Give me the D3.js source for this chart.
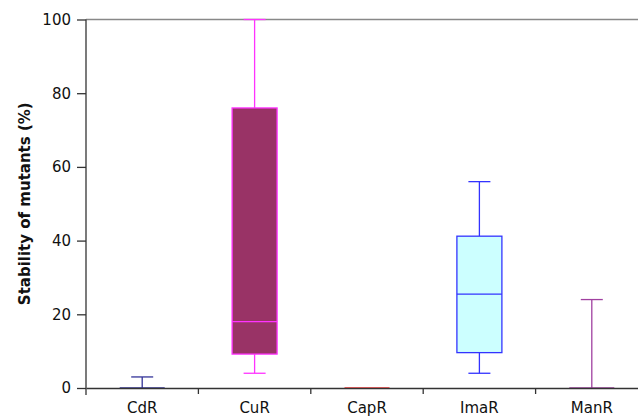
<!DOCTYPE html>
<html>
<head>
<meta charset="utf-8">
<script src="https://cdn.jsdelivr.net/npm/d3@7"></script>
<style>
  body { margin: 0; background: #fff; }
  svg { display: block; font-family: "DejaVu Sans", Verdana, sans-serif; }
</style>
</head>
<body>
<div id="chart"></div>
<script>
// Data
const categories = ["CdR", "CuR", "CapR", "ImaR", "ManR"];
const whiskerLow = [0, 4, 0, 4, 0];
const q1 = [0, 9.2, 0, 9.6, 0];
const medians = [0, 18, 0, 25.5, 0];
const q3 = [0, 76, 0, 41.2, 0];
const whiskerHigh = [3, 100, 0, 56, 24];
const yTicks = [0, 20, 40, 60, 80, 100];

// Styling per box
const strokeColors = ["#333399", "#ff33ff", "#ff3333", "#3333ff", "#a040a0"];
const fillColors = ["#ccffff", "#993366", "#ffffff", "#ccffff", "#ffffff"];

const W = 638, H = 416;
const margin = { left: 86, top: 19.5, right: -10, bottom: 28 };

const svg = d3.select("#chart").append("svg").attr("width", W).attr("height", H);

const x = d3.scaleBand().domain(categories).range([margin.left, W - margin.right]);
const y = d3.scaleLinear().domain([0, 100]).range([388, margin.top]);

const boxes = categories.map((c, i) => ({
  name: c, lo: whiskerLow[i], q1: q1[i], med: medians[i], q3: q3[i], hi: whiskerHigh[i],
  stroke: strokeColors[i], fill: fillColors[i]
}));

// top frame line
svg.append("line")
  .attr("x1", margin.left).attr("x2", W)
  .attr("y1", y(100)).attr("y2", y(100))
  .attr("stroke", "#888").attr("stroke-width", 1.5);

const boxW = 45, capW = 22;
const g = svg.append("g").selectAll("g").data(boxes).enter().append("g");
const cx = (d) => x(d.name) + x.bandwidth() / 2;

// whiskers
g.append("line")
  .attr("x1", cx).attr("x2", cx)
  .attr("y1", (d) => y(d.hi)).attr("y2", (d) => y(d.q3))
  .attr("stroke", (d) => d.stroke).attr("stroke-width", 1.3);
g.append("line")
  .attr("x1", cx).attr("x2", cx)
  .attr("y1", (d) => y(d.q1)).attr("y2", (d) => y(d.lo))
  .attr("stroke", (d) => d.stroke).attr("stroke-width", 1.3);
g.append("line")
  .attr("x1", (d) => cx(d) - capW / 2).attr("x2", (d) => cx(d) + capW / 2)
  .attr("y1", (d) => y(d.hi)).attr("y2", (d) => y(d.hi))
  .attr("stroke", (d) => d.stroke).attr("stroke-width", 1.3)
  .attr("display", (d) => (d.hi === d.q3 ? "none" : null));
g.append("line")
  .attr("x1", (d) => cx(d) - capW / 2).attr("x2", (d) => cx(d) + capW / 2)
  .attr("y1", (d) => y(d.lo)).attr("y2", (d) => y(d.lo))
  .attr("stroke", (d) => d.stroke).attr("stroke-width", 1.3)
  .attr("display", (d) => (d.lo === d.q1 ? "none" : null));

// boxes
g.append("rect")
  .attr("x", (d) => cx(d) - boxW / 2)
  .attr("width", boxW)
  .attr("y", (d) => y(d.q3))
  .attr("height", (d) => y(d.q1) - y(d.q3))
  .attr("fill", (d) => d.fill)
  .attr("stroke", (d) => d.stroke).attr("stroke-width", 1.3);

// medians
g.append("line")
  .attr("x1", (d) => cx(d) - boxW / 2).attr("x2", (d) => cx(d) + boxW / 2)
  .attr("y1", (d) => y(d.med)).attr("y2", (d) => y(d.med))
  .attr("stroke", (d) => d.stroke).attr("stroke-width", 1.3);

// y axis
const yAxis = svg.append("g")
  .attr("transform", "translate(" + margin.left + ",0)")
  .call(d3.axisLeft(y).tickValues(yTicks).tickSize(9).tickPadding(6));
yAxis.selectAll("text").attr("font-size", 15).attr("fill", "#111")
  .style("font-family", "DejaVu Sans, Verdana, sans-serif");
yAxis.selectAll("line, path").attr("stroke", "#333").attr("stroke-width", 1.3);
yAxis.select(".domain").attr("d", "M0," + (y(0) + 7) + "V" + y(100));

// x axis
const xAxis = svg.append("g")
  .attr("transform", "translate(0," + y(0) + ")")
  .call(d3.axisBottom(x).tickSize(0).tickPadding(14));
xAxis.selectAll("text").attr("font-size", 15).attr("fill", "#111")
  .style("font-family", "DejaVu Sans, Verdana, sans-serif");
xAxis.select(".domain").attr("stroke", "#333").attr("stroke-width", 1.3);
xAxis.selectAll(".sep").data(categories.slice(1)).enter().append("line")
  .attr("class", "sep")
  .attr("x1", (d) => x(d)).attr("x2", (d) => x(d))
  .attr("y1", 0).attr("y2", 6)
  .attr("stroke", "#333").attr("stroke-width", 1.3);

// y axis title
svg.append("text")
  .attr("transform", "translate(30," + (y(0) + y(100)) / 2 + ") rotate(-90)")
  .attr("text-anchor", "middle")
  .attr("font-size", 15)
  .attr("font-weight", "bold")
  .attr("fill", "#111")
  .text("Stability of mutants (%)");
</script>
</body>
</html>
